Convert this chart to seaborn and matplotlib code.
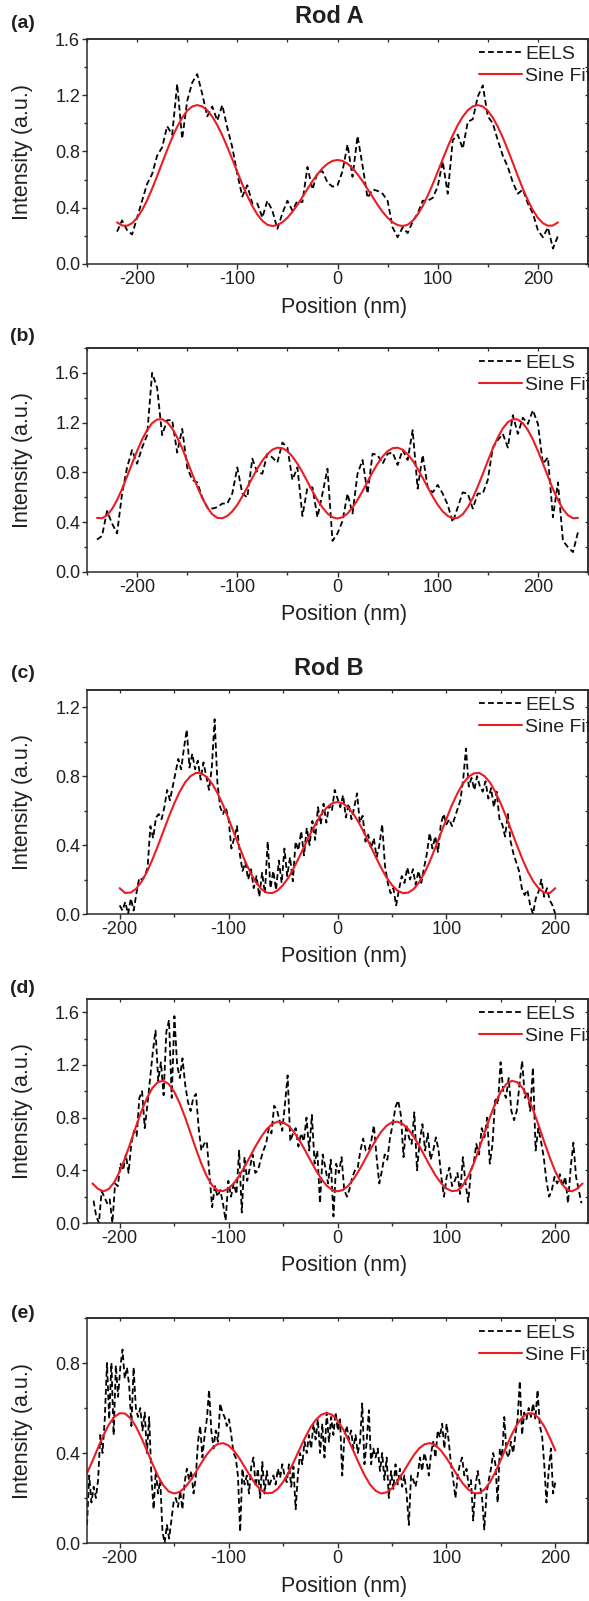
import numpy as np
import matplotlib
matplotlib.use("Agg")
import matplotlib.pyplot as plt
import seaborn as sns
from matplotlib.ticker import MultipleLocator

sns.set_theme(style="ticks")
plt.rcParams["font.family"] = ["Liberation Sans", "DejaVu Sans"]
plt.rcParams["axes.unicode_minus"] = False

TEXT = "#231f20"
RED = "#ec1c24"


def mirrored(half):
    """Symmetric profile from its half sampled at x >= 0."""
    return half[:0:-1] + half


# ---------------- Rod A, panel (a) ----------------
pos_a = np.arange(-220, 221, 5)
eels_a = [0.23, 0.31, 0.24, 0.21, 0.33, 0.45, 0.57, 0.64, 0.77, 0.83,
          0.98, 0.92, 1.28, 0.89, 1.16, 1.29, 1.35, 1.21, 1.05, 1.12,
          1.02, 1.13, 0.97, 0.83, 0.64, 0.48, 0.56, 0.43, 0.43, 0.33,
          0.45, 0.38, 0.25, 0.36, 0.45, 0.38, 0.45, 0.44, 0.69, 0.53,
          0.65, 0.66, 0.58, 0.55, 0.56, 0.66, 0.85, 0.62, 0.91, 0.70,
          0.47, 0.53, 0.52, 0.50, 0.45, 0.26, 0.19, 0.26, 0.22, 0.30,
          0.36, 0.45, 0.45, 0.47, 0.55, 0.73, 0.50, 0.88, 0.92, 0.82,
          1.01, 1.03, 1.19, 1.27, 1.05, 1.00, 0.88, 0.77, 0.69, 0.58,
          0.50, 0.53, 0.43, 0.36, 0.24, 0.19, 0.26, 0.11, 0.20]
fitpos_a = np.arange(-220, 221, 5)
fit_a = mirrored([0.740, 0.733, 0.713, 0.681, 0.638, 0.589, 0.533, 0.477, 0.421, 0.371,
                  0.329, 0.297, 0.277, 0.270, 0.279, 0.307, 0.352, 0.412, 0.485, 0.567,
                  0.655, 0.745, 0.833, 0.915, 0.988, 1.048, 1.093, 1.121, 1.130, 1.120,
                  1.090, 1.041, 0.976, 0.899, 0.811, 0.719, 0.625, 0.535, 0.453, 0.383,
                  0.328, 0.290, 0.272, 0.274, 0.296])

# ---------------- Rod A, panel (b) ----------------
pos_b = np.arange(-240, 241, 5)
eels_b = [0.26, 0.29, 0.49, 0.39, 0.31, 0.63, 0.84, 0.98, 0.87, 1.00,
          1.10, 1.60, 1.48, 1.10, 1.22, 1.22, 0.96, 1.15, 0.84, 0.74,
          0.72, 0.60, 0.52, 0.51, 0.52, 0.55, 0.55, 0.63, 0.84, 0.63,
          0.60, 0.91, 0.80, 0.79, 0.95, 0.92, 0.88, 1.04, 1.00, 0.74,
          0.84, 0.45, 0.68, 0.68, 0.44, 0.63, 0.83, 0.25, 0.31, 0.41,
          0.63, 0.47, 0.79, 0.90, 0.63, 0.95, 0.94, 0.87, 0.95, 0.96,
          0.86, 0.98, 0.90, 1.14, 0.67, 0.94, 0.68, 0.64, 0.70, 0.63,
          0.54, 0.40, 0.52, 0.64, 0.63, 0.51, 0.63, 0.63, 0.74, 1.00,
          1.06, 1.11, 1.00, 1.26, 1.11, 1.24, 1.19, 1.30, 1.19, 0.87,
          0.92, 0.44, 0.72, 0.25, 0.20, 0.16, 0.32]
fitpos_b = np.arange(-240, 241, 5)
fit_b = mirrored([0.430, 0.440, 0.470, 0.518, 0.579, 0.650, 0.726, 0.802, 0.870, 0.928,
                  0.971, 0.995, 0.999, 0.983, 0.947, 0.895, 0.830, 0.757, 0.681, 0.607,
                  0.540, 0.487, 0.450, 0.432, 0.435, 0.464, 0.519, 0.595, 0.687, 0.788,
                  0.892, 0.993, 1.082, 1.154, 1.204, 1.228, 1.225, 1.196, 1.141, 1.065,
                  0.973, 0.872, 0.768, 0.667, 0.578, 0.506, 0.456, 0.432, 0.435])

# ---------------- Rod B, panel (c) ----------------
eels_c = [0.05, 0.02, 0.07, 0.00, 0.09, 0.02, 0.12, 0.21, 0.20, 0.22,
          0.27, 0.51, 0.44, 0.56, 0.58, 0.55, 0.62, 0.72, 0.66, 0.74,
          0.82, 0.90, 0.84, 0.96, 1.07, 0.85, 0.93, 0.84, 0.89, 0.78,
          0.88, 0.80, 0.72, 0.85, 1.13, 0.76, 0.62, 0.58, 0.62, 0.55,
          0.38, 0.44, 0.51, 0.35, 0.25, 0.30, 0.20, 0.26, 0.15, 0.22,
          0.10, 0.24, 0.12, 0.42, 0.15, 0.25, 0.14, 0.31, 0.18, 0.38,
          0.22, 0.33, 0.19, 0.42, 0.37, 0.48, 0.34, 0.50, 0.40, 0.54,
          0.43, 0.62, 0.52, 0.64, 0.53, 0.63, 0.60, 0.72, 0.67, 0.62,
          0.69, 0.56, 0.64, 0.55, 0.62, 0.70, 0.53, 0.57, 0.42, 0.46,
          0.38, 0.44, 0.33, 0.40, 0.52, 0.28, 0.18, 0.12, 0.15, 0.05,
          0.14, 0.22, 0.18, 0.27, 0.20, 0.26, 0.17, 0.25, 0.18, 0.27,
          0.35, 0.47, 0.38, 0.45, 0.36, 0.52, 0.58, 0.52, 0.55, 0.51,
          0.56, 0.61, 0.66, 0.78, 0.96, 0.74, 0.79, 0.72, 0.80, 0.74,
          0.71, 0.77, 0.67, 0.73, 0.62, 0.71, 0.55, 0.52, 0.45, 0.58,
          0.42, 0.35, 0.30, 0.25, 0.15, 0.11, 0.14, 0.05, 0.00, 0.09,
          0.13, 0.20, 0.10, 0.15, 0.08, 0.05, 0.00]
pos_c = np.linspace(-200, 200, len(eels_c))
fitpos_c = np.arange(-200, 201, 5)
fit_c = mirrored([0.650, 0.642, 0.617, 0.577, 0.525, 0.464, 0.399, 0.332, 0.269, 0.212,
                  0.168, 0.136, 0.121, 0.124, 0.145, 0.185, 0.240, 0.309, 0.388, 0.470,
                  0.552, 0.631, 0.699, 0.755, 0.795, 0.816, 0.819, 0.800, 0.763, 0.708,
                  0.640, 0.562, 0.478, 0.394, 0.315, 0.244, 0.187, 0.146, 0.124, 0.122,
                  0.150])

# ---------------- Rod B, panel (d) ----------------
eels_d = [0.17, 0.05, 0.00, 0.24, 0.20, 0.15, 0.18, 0.00, 0.30, 0.28,
          0.45, 0.40, 0.52, 0.38, 0.60, 0.70, 0.66, 0.95, 1.00, 0.72,
          0.90, 1.10, 1.30, 1.46, 1.08, 1.22, 0.97, 1.45, 1.54, 0.95,
          1.57, 1.20, 1.10, 1.25, 1.05, 0.92, 0.85, 0.95, 0.98, 0.72,
          0.55, 0.60, 0.62, 0.37, 0.12, 0.28, 0.20, 0.25, 0.15, 0.02,
          0.32, 0.20, 0.30, 0.22, 0.55, 0.08, 0.50, 0.32, 0.42, 0.52,
          0.38, 0.40, 0.48, 0.55, 0.60, 0.72, 0.68, 0.89, 0.86, 0.78,
          0.70, 0.90, 1.12, 0.62, 0.68, 0.72, 0.58, 0.68, 0.62, 0.80,
          0.55, 0.82, 0.45, 0.55, 0.15, 0.52, 0.42, 0.30, 0.48, 0.05,
          0.45, 0.38, 0.50, 0.25, 0.20, 0.26, 0.35, 0.40, 0.42, 0.55,
          0.64, 0.55, 0.55, 0.62, 0.74, 0.50, 0.30, 0.40, 0.52, 0.48,
          0.65, 0.75, 0.88, 0.93, 0.82, 0.50, 0.75, 0.65, 0.60, 0.84,
          0.40, 0.62, 0.75, 0.55, 0.68, 0.48, 0.55, 0.65, 0.55, 0.35,
          0.20, 0.35, 0.42, 0.28, 0.32, 0.38, 0.22, 0.50, 0.30, 0.16,
          0.40, 0.45, 0.60, 0.52, 0.72, 0.65, 0.80, 0.45, 0.60, 0.95,
          0.90, 1.22, 1.00, 0.95, 1.10, 0.85, 0.78, 0.85, 1.05, 1.23,
          0.95, 1.00, 0.85, 1.18, 0.55, 0.72, 0.62, 0.50, 0.32, 0.20,
          0.25, 0.35, 0.30, 0.37, 0.28, 0.35, 0.15, 0.42, 0.61, 0.35,
          0.25, 0.15]
pos_d = np.linspace(-224, 224, len(eels_d))
fitpos_d = np.arange(-225, 226, 5)
fit_d = mirrored([0.240, 0.251, 0.284, 0.336, 0.403, 0.478, 0.555, 0.628, 0.691, 0.738,
                  0.764, 0.769, 0.751, 0.712, 0.655, 0.586, 0.509, 0.432, 0.361, 0.303,
                  0.262, 0.242, 0.246, 0.285, 0.354, 0.450, 0.563, 0.684, 0.804, 0.911,
                  0.997, 1.055, 1.079, 1.069, 1.024, 0.948, 0.849, 0.733, 0.611, 0.494,
                  0.390, 0.309, 0.258, 0.240, 0.260, 0.300])

# ---------------- Rod B, panel (e) ----------------
eels_e = [0.08, 0.30, 0.18, 0.25, 0.20, 0.28, 0.48, 0.40, 0.55, 0.80,
          0.55, 0.80, 0.48, 0.79, 0.65, 0.78, 0.86, 0.73, 0.78, 0.70,
          0.52, 0.78, 0.60, 0.56, 0.60, 0.50, 0.58, 0.40, 0.56, 0.30,
          0.15, 0.32, 0.22, 0.28, 0.05, 0.00, 0.08, 0.02, 0.10, 0.18,
          0.20, 0.16, 0.23, 0.15, 0.27, 0.33, 0.28, 0.32, 0.22, 0.29,
          0.45, 0.52, 0.38, 0.48, 0.55, 0.68, 0.50, 0.42, 0.50, 0.45,
          0.62, 0.58, 0.56, 0.52, 0.55, 0.48, 0.40, 0.38, 0.30, 0.05,
          0.33, 0.26, 0.30, 0.22, 0.34, 0.38, 0.25, 0.33, 0.20, 0.36,
          0.22, 0.32, 0.25, 0.28, 0.30, 0.26, 0.33, 0.29, 0.35, 0.30,
          0.27, 0.35, 0.25, 0.34, 0.15, 0.30, 0.40, 0.35, 0.45, 0.40,
          0.48, 0.42, 0.53, 0.46, 0.55, 0.40, 0.53, 0.38, 0.58, 0.45,
          0.56, 0.48, 0.58, 0.50, 0.55, 0.30, 0.48, 0.52, 0.46, 0.50,
          0.42, 0.48, 0.40, 0.45, 0.62, 0.35, 0.45, 0.59, 0.35, 0.42,
          0.38, 0.42, 0.32, 0.40, 0.28, 0.38, 0.20, 0.32, 0.24, 0.35,
          0.26, 0.33, 0.25, 0.30, 0.22, 0.08, 0.30, 0.28, 0.25, 0.30,
          0.38, 0.32, 0.40, 0.36, 0.30, 0.40, 0.45, 0.38, 0.50, 0.47,
          0.53, 0.42, 0.53, 0.45, 0.35, 0.28, 0.20, 0.30, 0.35, 0.38,
          0.30, 0.33, 0.25, 0.28, 0.10, 0.25, 0.32, 0.26, 0.20, 0.06,
          0.22, 0.28, 0.33, 0.40, 0.35, 0.18, 0.42, 0.38, 0.56, 0.40,
          0.38, 0.45, 0.40, 0.48, 0.55, 0.72, 0.48, 0.58, 0.55, 0.60,
          0.56, 0.62, 0.55, 0.68, 0.52, 0.48, 0.35, 0.18, 0.32, 0.42,
          0.22, 0.27]
pos_e = np.linspace(-230, 200, len(eels_e))
fitpos_e = np.arange(-230, 201, 5)
fit_e = [0.310, 0.364, 0.422, 0.478, 0.526, 0.560, 0.577, 0.575, 0.554, 0.517,
         0.467, 0.411, 0.353, 0.299, 0.257, 0.229, 0.220, 0.227, 0.247, 0.278,
         0.316, 0.356, 0.393, 0.422, 0.440, 0.444, 0.433, 0.410, 0.376, 0.336,
         0.296, 0.260, 0.234, 0.221, 0.223, 0.240, 0.271, 0.312, 0.362, 0.415,
         0.466, 0.512, 0.547, 0.570, 0.578, 0.570, 0.545, 0.507, 0.458, 0.405,
         0.350, 0.300, 0.259, 0.232, 0.220, 0.225, 0.243, 0.274, 0.312, 0.352,
         0.390, 0.421, 0.439, 0.444, 0.434, 0.411, 0.378, 0.340, 0.300, 0.265,
         0.238, 0.222, 0.221, 0.238, 0.270, 0.316, 0.370, 0.428, 0.482, 0.528,
         0.560, 0.577, 0.575, 0.554, 0.517, 0.467, 0.411]

panels = [
    dict(letter="(a)", x=pos_a, y=eels_a, fx=fitpos_a, fy=fit_a, xlim=(-250, 250), ylim=(0, 1.6)),
    dict(letter="(b)", x=pos_b, y=eels_b, fx=fitpos_b, fy=fit_b, xlim=(-250, 250), ylim=(0, 1.8)),
    dict(letter="(c)", x=pos_c, y=eels_c, fx=fitpos_c, fy=fit_c, xlim=(-230, 230), ylim=(0, 1.3)),
    dict(letter="(d)", x=pos_d, y=eels_d, fx=fitpos_d, fy=fit_d, xlim=(-230, 230), ylim=(0, 1.7)),
    dict(letter="(e)", x=pos_e, y=eels_e, fx=fitpos_e, fy=fit_e, xlim=(-230, 230), ylim=(0, 1.0)),
]

# Figure geometry in pixels
W, H = 589, 1601
LEFT, RIGHT = 87, 588
boxes = [(39, 264), (348, 572), (690, 914), (999, 1223), (1318, 1543)]
letter_y = [23.5, 336.7, 673.3, 988.3, 1313.3]

fig = plt.figure(figsize=(W / 100, H / 100), dpi=100)
fig.patch.set_facecolor("white")

for p, (top, bot), ly in zip(panels, boxes, letter_y):
    ax = fig.add_axes([LEFT / W, 1 - bot / H, (RIGHT - LEFT) / W, (bot - top) / H])
    ax.set_facecolor("white")
    sns.lineplot(x=p["x"], y=p["y"], ax=ax, color="black", linewidth=1.3,
                 linestyle=(0, (3.2, 1.8)), estimator=None, errorbar=None,
                 sort=False, label="EELS")
    sns.lineplot(x=p["fx"], y=p["fy"], ax=ax, color=RED, linewidth=1.5,
                 estimator=None, errorbar=None, sort=False, label="Sine Fit")

    ax.set_xlim(*p["xlim"])
    ax.set_ylim(*p["ylim"])
    ax.xaxis.set_major_locator(MultipleLocator(100))
    ax.xaxis.set_minor_locator(MultipleLocator(50))
    ax.yaxis.set_major_locator(MultipleLocator(0.4))
    ax.yaxis.set_minor_locator(MultipleLocator(0.2))
    ax.yaxis.set_major_formatter(plt.FormatStrFormatter("%.1f"))

    for s in ax.spines.values():
        s.set_visible(True)
        s.set_linewidth(1.1)
        s.set_color("#2b2b2b")
    ax.tick_params(which="major", direction="out", length=3.5, width=1.0,
                   labelsize=13, pad=1.5, colors="#2b2b2b", labelcolor=TEXT)
    ax.tick_params(which="minor", direction="out", length=2.2, width=1.0,
                   colors="#2b2b2b")

    top_ax = ax.secondary_xaxis("top")
    top_ax.xaxis.set_major_locator(MultipleLocator(100))
    top_ax.xaxis.set_minor_locator(MultipleLocator(50))
    top_ax.tick_params(which="both", direction="in", length=2, width=0.9,
                       labeltop=False, colors="#2b2b2b")
    top_ax.spines["top"].set_linewidth(1.1)
    top_ax.spines["top"].set_color("#2b2b2b")
    right_ax = ax.secondary_yaxis("right")
    right_ax.yaxis.set_major_locator(MultipleLocator(0.4))
    right_ax.yaxis.set_minor_locator(MultipleLocator(0.2))
    right_ax.tick_params(which="both", direction="in", length=2, width=0.9,
                         labelright=False, colors="#2b2b2b")
    right_ax.spines["right"].set_linewidth(1.1)
    right_ax.spines["right"].set_color("#2b2b2b")

    ax.set_xlabel("Position (nm)", fontsize=15.5, color=TEXT)
    ax.set_ylabel("Intensity (a.u.)", fontsize=15.5, color=TEXT)
    ax.xaxis.set_label_coords(0.513, -0.145)
    ax.yaxis.set_label_coords(-0.108, 0.5)

    ax.legend(loc="upper left", bbox_to_anchor=(0.782, 0.973), frameon=False,
              fontsize=14, handlelength=2.2, handletextpad=0.2,
              labelspacing=0.22, borderpad=0, borderaxespad=0,
              labelcolor=TEXT)

    fig.text(22.5 / W, 1 - ly / H, p["letter"], ha="center", va="center",
             fontsize=14, fontweight="bold", color=TEXT)

fig.text(329 / W, 1 - 16.7 / H, "Rod A", ha="center", va="center",
         fontsize=17, fontweight="bold", color=TEXT)
fig.text(329 / W, 1 - 668 / H, "Rod B", ha="center", va="center",
         fontsize=17, fontweight="bold", color=TEXT)

fig.savefig("out.png", dpi=100)
